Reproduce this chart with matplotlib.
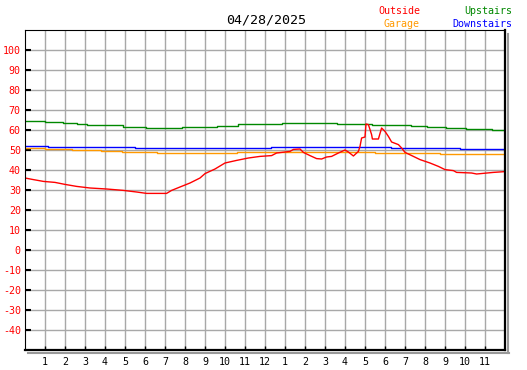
import matplotlib
matplotlib.use('Agg')
import matplotlib.pyplot as plt
from matplotlib.lines import Line2D

# hours since midnight, degrees F
outside_h = [0, 0.42, 0.92, 1.5, 2.0, 2.58, 3.25, 4.08, 4.92, 5.58, 6.08, 7.08, 7.33, 7.75,
             8.25, 8.75, 9.0, 9.5, 10.0, 10.58, 11.17, 11.75, 12.33, 12.58, 13.25, 13.42,
             13.75, 13.92, 14.25, 14.58, 14.83, 15.08, 15.33, 15.67, 16.0, 16.17, 16.42,
             16.67, 16.75, 16.83, 17.0, 17.05, 17.17, 17.33, 17.37, 17.67, 17.83, 18.0,
             18.17, 18.33, 18.67, 18.83, 19.0, 19.42, 19.75, 20.25, 20.67, 21.0, 21.42,
             21.58, 22.33, 22.58, 23.42, 24]
outside_v = [36.0, 35.2, 34.3, 33.8, 32.8, 31.8, 31.0, 30.5, 29.8, 29.0, 28.3, 28.3, 29.8, 31.5,
             33.5, 36.0, 38.2, 40.5, 43.5, 44.8, 46.0, 46.8, 47.2, 48.5, 49.3, 50.3,
             50.5, 48.8, 47.2, 45.7, 45.5, 46.5, 46.8, 48.5, 50.0, 49.0, 47.0,
             49.3, 51.8, 56.0, 56.5, 63.0, 62.7, 57.7, 55.5, 55.5, 61.0, 59.3,
             56.8, 54.0, 52.7, 51.0, 48.8, 46.8, 45.2, 43.5, 41.8, 40.2, 39.7,
             38.8, 38.5, 38.0, 38.8, 39.2]

garage_h = [0, 1.0, 2.33, 3.8, 4.87, 6.58, 10.62, 17.5, 20.75, 24]
garage_v = [51.0, 50.3, 49.8, 49.3, 48.8, 48.3, 49.0, 48.5, 48.2, 48.2]

upstairs_h = [0, 1.0, 1.92, 2.58, 3.08, 4.92, 6.03, 7.83, 9.58, 10.67, 12.83, 15.58, 17.33,
              19.28, 20.08, 21.03, 22.03, 23.33, 24]
upstairs_v = [64.6, 64.0, 63.5, 63.0, 62.5, 61.7, 61.0, 61.7, 62.2, 62.9, 63.5, 63.0, 62.5,
              62.0, 61.5, 61.0, 60.5, 60.0, 60.0]

downstairs_h = [0, 1.17, 5.5, 12.3, 18.3, 21.75, 24]
downstairs_v = [52.0, 51.5, 51.0, 51.3, 51.0, 50.5, 50.5]

hour_ticks = list(range(1, 24))
hour_labels = [str(h) for h in range(1, 13)] + [str(h) for h in range(1, 12)]
temp_ticks = list(range(-40, 101, 10))

mono = 'DejaVu Sans Mono'
W, H = 527, 370
fig = plt.figure(figsize=(W / 100, H / 100), dpi=100)
ax = fig.add_axes([25 / W, 1 - 350 / H, 480 / W, 320 / H])

ax.plot(garage_h, garage_v, color='#ff9900', lw=1.0, drawstyle='steps-post')
ax.plot(downstairs_h, downstairs_v, color='#0000ff', lw=1.0, drawstyle='steps-post')
ax.plot(upstairs_h, upstairs_v, color='#008800', lw=1.0, drawstyle='steps-post')
ax.plot(outside_h, outside_v, color='#ff0000', lw=1.0)

ax.set_xlim(0, 24)
ax.set_ylim(-50, 110)
ax.set_xticks(hour_ticks)
ax.set_xticklabels(hour_labels, fontfamily=mono, fontsize=7.2)
ax.set_yticks(temp_ticks)
ax.set_yticklabels([str(t) for t in temp_ticks], fontfamily=mono, fontsize=7.2, color='red')
ax.tick_params(axis='x', direction='in', length=3, width=1, pad=5)
ax.tick_params(axis='y', direction='in', length=4, width=1.5, pad=3)
ax.grid(True, color='#a8a8a8', lw=1.0)
ax.set_axisbelow(True)

for s in ['left', 'top']:
    ax.spines[s].set_linewidth(0.8)
for s in ['right', 'bottom']:
    ax.spines[s].set_linewidth(1.6)

# drop shadow along right and bottom edges
fig.add_artist(Line2D([508 / W, 508 / W], [1 - 34 / H, 1 - 353 / H], color='#999999', lw=1.5))
fig.add_artist(Line2D([28 / W, 509 / W], [1 - 353 / H, 1 - 353 / H], color='#999999', lw=1.5))

fig.text(266 / W, 1 - 20 / H, '04/28/2025', ha='center', va='center', fontfamily=mono, fontsize=9.6)
fig.text(420 / W, 1 - 11 / H, 'Outside', ha='right', va='center', fontfamily=mono, fontsize=7.2, color='red')
fig.text(420 / W, 1 - 24 / H, 'Garage', ha='right', va='center', fontfamily=mono, fontsize=7.2, color='#ff9900')
fig.text(512 / W, 1 - 11 / H, 'Upstairs', ha='right', va='center', fontfamily=mono, fontsize=7.2, color='#008800')
fig.text(512 / W, 1 - 24 / H, 'Downstairs', ha='right', va='center', fontfamily=mono, fontsize=7.2, color='#0000ff')

fig.savefig('out.png', dpi=100)
